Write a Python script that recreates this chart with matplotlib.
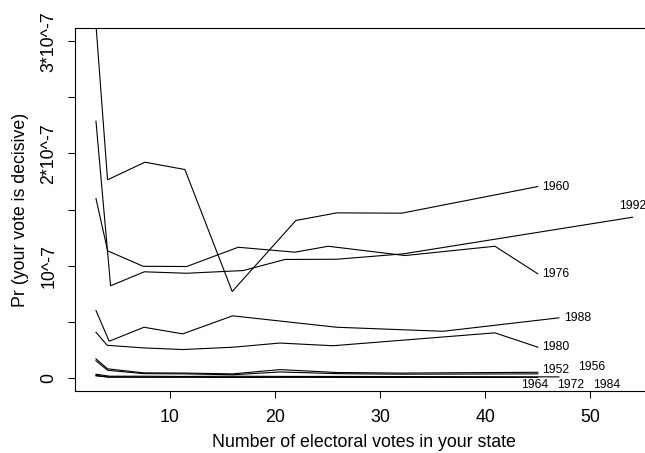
import matplotlib
matplotlib.use("Agg")
import matplotlib.pyplot as plt
import numpy as np

plt.rcParams['font.family'] = ['Liberation Sans', 'DejaVu Sans']

# ---- data (probabilities in units of 1e-7) ----
years = ["1952", "1956", "1960", "1964", "1972", "1976", "1980", "1984", "1988", "1992"]

x_1952 = [3, 4.1, 7.5, 11.4, 16, 20.5, 25.9, 32, 45]
y_1952 = [0.167, 0.078, 0.042, 0.040, 0.033, 0.071, 0.045, 0.040, 0.047]

x_1956 = [3, 4.1, 7.5, 11.4, 16, 20.5, 25.9, 32, 45]
y_1956 = [0.150, 0.065, 0.035, 0.033, 0.025, 0.050, 0.035, 0.030, 0.033]

x_1960 = [3, 4.1, 7.65, 11.45, 15.95, 22.0, 25.9, 32.05, 45]
y_1960 = [3.15, 1.765, 1.922, 1.857, 0.768, 1.402, 1.47, 1.467, 1.705]

x_1964 = [3, 4.2, 7.5, 11.5, 16, 21, 26, 32, 43]
y_1964 = [0.020, 0.004, 0.003, 0.003, 0.002, 0.003, 0.002, 0.002, 0.001]

x_1972 = [3, 4.1, 7.5, 11.6, 16.5, 21.9, 25.1, 32.4, 40.9, 45]
y_1972 = [0.015, 0.005, 0.004, 0.004, 0.003, 0.003, 0.003, 0.002, 0.002, 0.002]

x_1976 = [3, 4.11, 7.49, 11.62, 16.52, 21.91, 25.08, 32.37, 40.92, 45]
y_1976 = [1.598, 1.131, 0.993, 0.991, 1.163, 1.119, 1.172, 1.089, 1.172, 0.926]

x_1980 = [3, 4.07, 7.49, 11.26, 16.05, 20.48, 25.52, 40.92, 45]
y_1980 = [0.404, 0.288, 0.265, 0.250, 0.271, 0.308, 0.284, 0.399, 0.271]

x_1984 = [3, 4.3, 7.6, 11.2, 16, 21, 25.9, 36, 47]
y_1984 = [0.030, 0.012, 0.012, 0.010, 0.012, 0.010, 0.010, 0.008, 0.006]

x_1988 = [3, 4.26, 7.56, 11.24, 15.99, 25.87, 36.0, 47]
y_1988 = [0.598, 0.324, 0.449, 0.390, 0.551, 0.449, 0.413, 0.533]

x_1992 = [3, 4.39, 7.59, 11.62, 17.0, 20.96, 25.87, 32.2, 54]
y_1992 = [2.288, 0.819, 0.944, 0.931, 0.955, 1.054, 1.056, 1.104, 1.431]

series_x = [x_1952, x_1956, x_1960, x_1964, x_1972, x_1976, x_1980, x_1984, x_1988, x_1992]
series_y = [y_1952, y_1956, y_1960, y_1964, y_1972, y_1976, y_1980, y_1984, y_1988, y_1992]

# label offsets from the end of each line (x in votes, y in 1e-7 units)
label_dx = [0.45, 3.8, 0.45, 0.45, 1.8, 0.45, 0.45, 3.3, 0.5, 0.0]
label_dy = [0.02, 0.06, 0.0, -0.065, -0.065, 0.0, 0.0, -0.07, 0.0, 0.10]
label_ha = ["left"] * 9 + ["center"]

x_ticks = [10, 20, 30, 40, 50]
y_ticks = [0, 0.5, 1, 1.5, 2, 2.5, 3]
y_ticklabels = ["0", "", "10^-7", "", "2*10^-7", "", "3*10^-7"]

SCALE = 1e-7

fig = plt.figure(figsize=(6.45, 4.53), dpi=100)
W, H = 645, 453
ax = fig.add_axes([74.5 / W, 62 / H, 579.5 / W, 363 / H])

for xs, ys in zip(series_x, series_y):
    ax.plot(xs, np.array(ys) * SCALE, color="black", lw=0.8, solid_joinstyle="miter")

for lab, xs, ys, dx, dy, ha in zip(years, series_x, series_y, label_dx, label_dy, label_ha):
    ax.text(xs[-1] + dx, (ys[-1] + dy) * SCALE, lab, fontsize=8.8, ha=ha, va="center")

ax.set_xlim(0.96, 56.04)
ax.set_ylim(-0.12 * SCALE, 3.12 * SCALE)

ax.set_xticks(x_ticks)
ax.set_xticklabels([str(t) for t in x_ticks])
ax.set_yticks([t * SCALE for t in y_ticks])
ax.set_yticklabels(y_ticklabels, rotation=90, va="center")

ax.tick_params(direction="out", length=5, width=0.75, labelsize=12.8, color="black")
ax.tick_params(axis="x", pad=8)
ax.tick_params(axis="y", pad=7.5)
for sp in ax.spines.values():
    sp.set_linewidth(0.8)
    sp.set_color("black")

ax.set_xlabel("Number of electoral votes in your state", fontsize=12.8, labelpad=6)
ax.set_ylabel("Pr (your vote is decisive)", fontsize=12.8, labelpad=8)

fig.savefig("out.png", dpi=100)
